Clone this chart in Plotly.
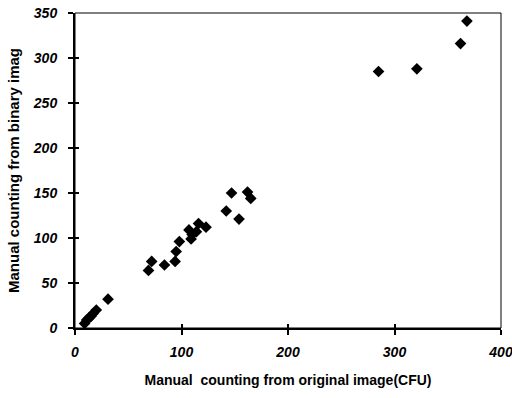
import plotly.graph_objects as go

x_original = [9, 11, 13, 15, 17, 20, 31, 69, 72, 84, 94, 95, 98, 107, 109, 110, 114, 116, 123,
              142, 147, 154, 162, 165, 285, 321, 362, 368]
y_binary = [5, 9, 11, 13, 16, 20, 32, 64, 74, 70, 74, 85, 96, 109, 99, 104, 107, 116, 112,
            130, 150, 121, 151, 144, 285, 288, 316, 341]
x_ticks = [0, 100, 200, 300, 400]
y_ticks = [0, 50, 100, 150, 200, 250, 300, 350]
x_title = "Manual  counting from original image(CFU)"
y_title = "Manual counting from binary imag"

tick_font = dict(family="Liberation Sans", size=14, color="black",
                 weight="bold", style="italic")
x_title_font = dict(family="Liberation Sans", size=14, color="black", weight="bold")
y_title_font = dict(family="Liberation Sans", size=15, color="black", weight="bold")

x_ticktext = ["<b><i>%d</i></b>" % v for v in x_ticks]
y_ticktext = ["<b><i>%d</i></b>" % v for v in y_ticks]

fig = go.Figure()
fig.add_trace(go.Scatter(
    x=x_original, y=y_binary, mode="markers",
    marker=dict(symbol="diamond", size=9, color="black"),
    showlegend=False, cliponaxis=False,
))
fig.add_trace(go.Scatter(x=[None], y=[None], xaxis="x2", yaxis="y2", showlegend=False))

fig.update_layout(
    width=512, height=398,
    margin=dict(l=75, r=11, t=13, b=70),
    paper_bgcolor="white", plot_bgcolor="white",
    xaxis=dict(range=[0, 400], tickvals=x_ticks, ticktext=x_ticktext,
               showgrid=False, zeroline=False,
               showline=True, linecolor="black", linewidth=2, automargin=False,
               ticks="outside", ticklen=5, tickwidth=2, tickcolor="black",
               tickfont=tick_font, ticklabelstandoff=5, ticklabeloverflow="allow",
               title=dict(text=x_title, font=x_title_font, standoff=16)),
    yaxis=dict(range=[0, 350], tickvals=y_ticks, ticktext=y_ticktext,
               showgrid=False, zeroline=False,
               showline=True, linecolor="black", linewidth=2, automargin=False,
               ticks="outside", ticklen=5, tickwidth=2, tickcolor="black",
               tickfont=tick_font, ticklabelstandoff=8, ticklabeloverflow="allow",
               title=dict(text=y_title, font=y_title_font, standoff=10)),
    xaxis2=dict(range=[0, 400], tickvals=x_ticks, overlaying="x", side="bottom",
                showgrid=False, zeroline=False, showticklabels=False, automargin=False,
                ticks="inside", ticklen=4, tickwidth=2, tickcolor="black"),
    yaxis2=dict(range=[0, 350], tickvals=y_ticks, overlaying="y", side="left",
                showgrid=False, zeroline=False, showticklabels=False, automargin=False,
                ticks="inside", ticklen=4, tickwidth=2, tickcolor="black"),
    shapes=[dict(type="rect", xref="paper", yref="paper", x0=0, y0=0, x1=1, y1=1,
                 line=dict(color="black", width=1), layer="below")],
)

fig.write_html("out.html", config={"displayModeBar": False},
               post_script="document.body.style.margin='0';document.body.style.overflow='hidden';")
